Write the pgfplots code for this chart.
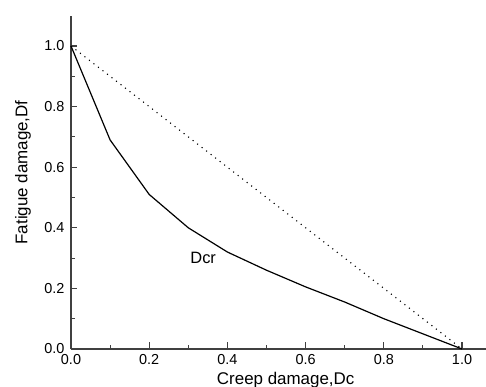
\documentclass[border=0pt]{standalone}
\usepackage{fontspec}
\setmainfont{Liberation Sans}
\usepackage{pgfplots}
\pgfplotsset{compat=1.18}
\definecolor{axgray}{HTML}{404040}
\begin{document}
\begin{tikzpicture}
\begin{axis}[
  scale only axis,
  width=414.5bp, height=333.3bp,
  xmin=0, xmax=1.06, ymin=0, ymax=1.1,
  axis x line*=bottom, axis y line*=left,
  axis line style={axgray, line width=1.4bp},
  xtick={0,0.2,0.4,0.6,0.8,1.0},
  ytick={0,0.2,0.4,0.6,0.8,1.0},
  minor tick num=1,
  tick align=inside,
  major tick length=6.5bp, minor tick length=4bp,
  tick style={axgray, line width=1.1bp},
  xticklabel style={font=\fontsize{14.5}{17}\selectfont, yshift=-2bp},
  yticklabel style={font=\fontsize{14.5}{17}\selectfont, xshift=-3bp},
  /pgf/number format/assume math mode=true,
  /pgf/number format/.cd, fixed, fixed zerofill, precision=1, /pgfplots/.cd,
  every axis x label/.style={at={(axis description cs:0.518,0)}, anchor=base, yshift=-35bp, font=\fontsize{17}{20}\selectfont},
  every axis y label/.style={at={(axis description cs:0,0.53)}, rotate=90, anchor=center, yshift=48bp, font=\fontsize{17}{20}\selectfont},
  xlabel={Creep damage,Dc},
  ylabel={Fatigue damage,Df},
  clip=false,
]
\addplot[black, line width=1.2bp] coordinates {
  (0,1.0) (0.1,0.69) (0.2,0.51) (0.3,0.40) (0.4,0.32) (0.5,0.26)
  (0.6,0.205) (0.7,0.155) (0.8,0.10) (0.9,0.05) (1.0,0.0)
};
\addplot[black, line width=1.1bp, dash pattern=on 1.1bp off 4.6bp] coordinates {
  (0,1.0) (1.0,0.0)
};
\node[font=\fontsize{16.5}{19}\selectfont] at (axis cs:0.338,0.30) {Dcr};
\end{axis}
\pgfresetboundingbox
\useasboundingbox (-71bp,-38bp) rectangle (415bp,349bp);
\end{tikzpicture}
\end{document}
